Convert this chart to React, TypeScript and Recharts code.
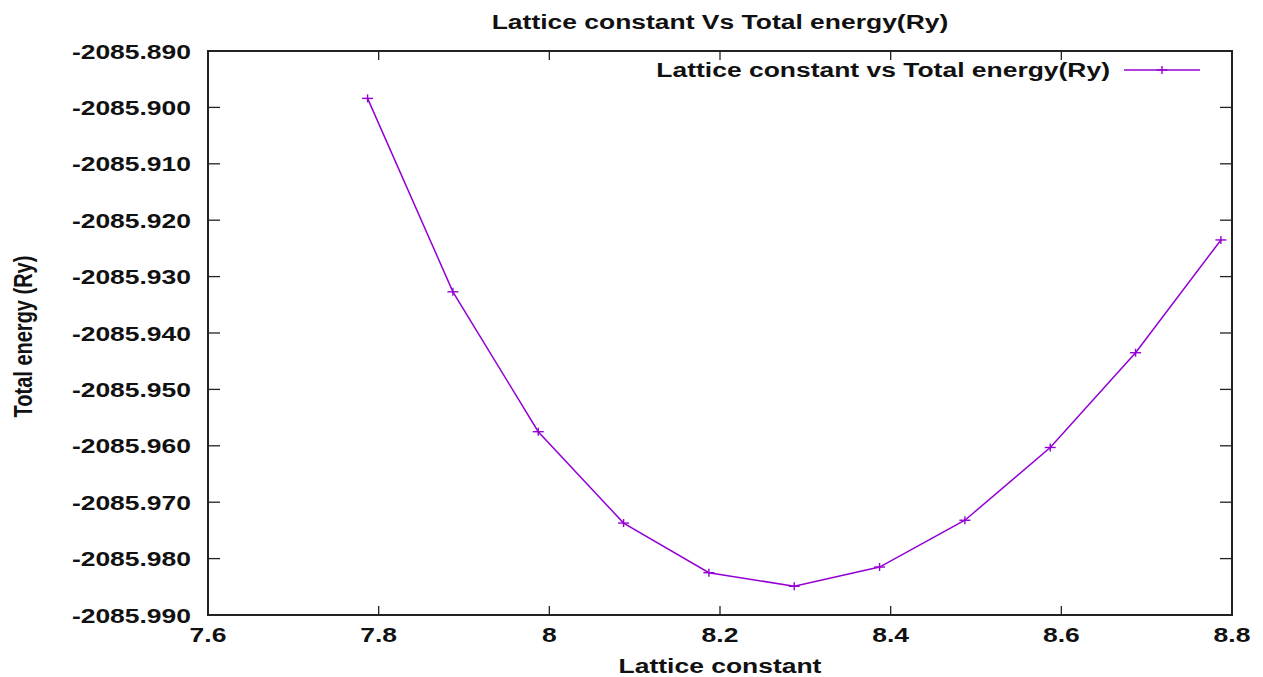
import React from 'react';
import { LineChart, Line, XAxis, YAxis, Label, ReferenceArea, ReferenceDot } from 'recharts';

const latticeConstant = [7.787, 7.887, 7.987, 8.087, 8.187, 8.287, 8.387, 8.487, 8.587, 8.687, 8.787];
const totalEnergy = [
  -2085.8984, -2085.9327, -2085.9575, -2085.9737, -2085.9825, -2085.9849,
  -2085.9815, -2085.9732, -2085.9603, -2085.9435, -2085.9235,
];
const xTicks = [7.6, 7.8, 8.0, 8.2, 8.4, 8.6, 8.8];
const yTicks = [
  -2085.89, -2085.9, -2085.91, -2085.92, -2085.93, -2085.94,
  -2085.95, -2085.96, -2085.97, -2085.98, -2085.99,
];
const xDomain = [7.6, 8.8];
const yDomain = [-2085.99, -2085.89];

const chartTitle = 'Lattice constant Vs Total energy(Ry)';
const seriesName = 'Lattice constant vs Total energy(Ry)';
const xTitle = 'Lattice constant';
const yTitle = 'Total energy (Ry)';

const data = latticeConstant.map((x, i) => ({ x, e: totalEnergy[i] }));

const FONT = "'Liberation Sans', Arial, Helvetica, sans-serif";
const SX = 1.26;
const FRAME = '#222';
const PURPLE = '#9400d3';

const fmtX = (v: number) => String(Math.round(v * 10) / 10);

const LeftTick = (props: any) => {
  const { x, y, payload } = props;
  return (
    <g>
      <line x1={x} x2={x + 12} y1={y} y2={y} stroke={FRAME} strokeWidth={1.3} />
      <text
        transform={`translate(${x - 17},${y + 7.5}) scale(${SX},1)`}
        textAnchor="end"
        fontFamily={FONT}
        fontWeight="bold"
        fontSize={21}
        fill="#111"
      >
        {Number(payload.value).toFixed(3)}
      </text>
    </g>
  );
};

const RightTick = (props: any) => {
  const { x, y } = props;
  return <line x1={x} x2={x - 12} y1={y} y2={y} stroke={FRAME} strokeWidth={1.3} />;
};

const BottomTick = (props: any) => {
  const { x, y, payload } = props;
  return (
    <g>
      <line x1={x} x2={x} y1={y} y2={y - 9} stroke={FRAME} strokeWidth={1.3} />
      <text
        transform={`translate(${x},${y + 27}) scale(${SX},1)`}
        textAnchor="middle"
        fontFamily={FONT}
        fontWeight="bold"
        fontSize={21}
        fill="#111"
      >
        {fmtX(payload.value)}
      </text>
    </g>
  );
};

const TopTickShape = (props: any) => {
  const { cx, cy } = props;
  if (cx == null || cy == null) return null;
  return <line x1={cx} x2={cx} y1={cy} y2={cy + 9} stroke={FRAME} strokeWidth={1.3} />;
};

const PlusDot = (props: any) => {
  const { cx, cy, index } = props;
  if (cx == null || cy == null) return null;
  return (
    <g key={`p${index}`}>
      <line x1={cx - 5.5} x2={cx + 5.5} y1={cy} y2={cy} stroke={PURPLE} strokeWidth={1.4} />
      <line x1={cx} x2={cx} y1={cy - 4} y2={cy + 4} stroke={PURPLE} strokeWidth={1.4} />
    </g>
  );
};

export default function App() {
  return (
    <div
      style={{
        position: 'relative',
        width: 1263,
        height: 677,
        margin: '-8px 0 0 -8px',
        background: '#fff',
      }}
    >
      <LineChart
        width={1263}
        height={677}
        data={data}
        margin={{ top: 51, right: 30, bottom: 0, left: 0 }}
      >
        <XAxis
          xAxisId="bottom"
          type="number"
          dataKey="x"
          domain={xDomain}
          ticks={xTicks}
          allowDataOverflow
          height={62}
          tickSize={0}
          tickMargin={0}
          tickLine={false}
          axisLine={false}
          tick={<BottomTick />}
          interval={0}
        />
        <YAxis
          yAxisId="left"
          type="number"
          domain={yDomain}
          ticks={yTicks}
          allowDataOverflow
          width={208}
          tickSize={0}
          tickMargin={0}
          tickLine={false}
          axisLine={false}
          tick={<LeftTick />}
          interval={0}
        >
          <Label
            content={() => (
              <text
                transform={`translate(32,336.5) rotate(-90) scale(1,${SX})`}
                textAnchor="middle"
                fontFamily={FONT}
                fontWeight="bold"
                fontSize={20}
                fill="#111"
              >
                {yTitle}
              </text>
            )}
          />
        </YAxis>
        <YAxis
          yAxisId="right"
          orientation="right"
          type="number"
          domain={yDomain}
          ticks={yTicks}
          allowDataOverflow
          width={1}
          tickSize={0}
          tickMargin={0}
          tickLine={false}
          axisLine={false}
          tick={<RightTick />}
          interval={0}
        />
        <ReferenceArea
          xAxisId="bottom"
          yAxisId="left"
          x1={xDomain[0]}
          x2={xDomain[1]}
          y1={yDomain[0]}
          y2={yDomain[1]}
          fill="none"
          fillOpacity={0}
          stroke={FRAME}
          strokeWidth={2}
          ifOverflow="visible"
        />
        {xTicks.map((t) => (
          <ReferenceDot
            key={`top${t}`}
            xAxisId="bottom"
            yAxisId="left"
            x={t}
            y={yDomain[1]}
            ifOverflow="visible"
            shape={<TopTickShape />}
          />
        ))}
        <Line
          xAxisId="bottom"
          yAxisId="left"
          type="linear"
          dataKey="e"
          name={seriesName}
          stroke={PURPLE}
          strokeWidth={1.5}
          dot={<PlusDot />}
          activeDot={false}
          isAnimationActive={false}
        />
      </LineChart>
      <svg
        width={1263}
        height={677}
        style={{ position: 'absolute', left: 0, top: 0, pointerEvents: 'none' }}
      >
        <text
          transform={`translate(720,29) scale(${SX},1)`}
          textAnchor="middle"
          fontFamily={FONT}
          fontWeight="bold"
          fontSize={21}
          fill="#111"
        >
          {chartTitle}
        </text>
        <text
          transform={`translate(1110,77) scale(${SX},1)`}
          textAnchor="end"
          fontFamily={FONT}
          fontWeight="bold"
          fontSize={21}
          fill="#111"
        >
          {seriesName}
        </text>
        <line x1={1124} x2={1200} y1={70} y2={70} stroke={PURPLE} strokeWidth={1.5} />
        <line x1={1156.5} x2={1167.5} y1={70} y2={70} stroke={PURPLE} strokeWidth={1.4} />
        <line x1={1162} x2={1162} y1={66} y2={74} stroke={PURPLE} strokeWidth={1.4} />
        <text
          transform={`translate(720,673) scale(${SX},1)`}
          textAnchor="middle"
          fontFamily={FONT}
          fontWeight="bold"
          fontSize={21}
          fill="#111"
        >
          {xTitle}
        </text>
      </svg>
    </div>
  );
}
